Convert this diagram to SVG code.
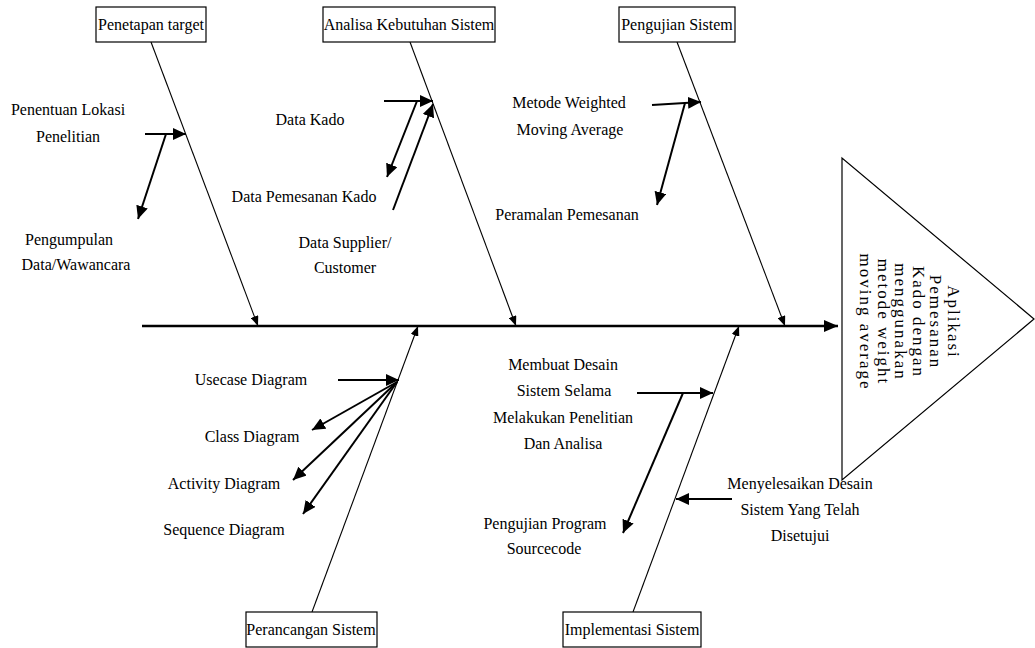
<svg xmlns="http://www.w3.org/2000/svg" width="1035" height="648" viewBox="0 0 1035 648">
<style>
text{font-family:"Liberation Serif","Times New Roman",serif;font-size:16px;fill:#000;text-anchor:middle}
.eff{font-size:17px;letter-spacing:2px}
.box{fill:#fff;stroke:#000;stroke-width:1.2}
.bone{stroke:#000;stroke-width:1.1;fill:none}
.sub{stroke:#000;stroke-width:2;fill:none}
.spine{stroke:#000;stroke-width:2.5;fill:none}
</style>
<defs>
<marker id="ah" markerUnits="userSpaceOnUse" markerWidth="14" markerHeight="12" refX="13" refY="6" orient="auto"><path d="M0,0 L13,6 L0,12 z" fill="#000"/></marker>
<marker id="as" markerUnits="userSpaceOnUse" markerWidth="10" markerHeight="8" refX="10" refY="4" orient="auto"><path d="M0,0 L10,4 L0,8 z" fill="#000"/></marker>
<marker id="asp" markerUnits="userSpaceOnUse" markerWidth="14" markerHeight="12" refX="14" refY="6" orient="auto"><path d="M0,0 L14,6 L0,12 z" fill="#000"/></marker>
</defs>
<rect width="1035" height="648" fill="#fff"/>
<g id="connectors">
<line class="spine" x1="142" y1="326" x2="838" y2="326" marker-end="url(#asp)"/>
<line class="bone" x1="151" y1="42" x2="258" y2="326" marker-end="url(#as)"/>
<line class="bone" x1="410" y1="42" x2="516" y2="326" marker-end="url(#as)"/>
<line class="bone" x1="677" y1="42" x2="785" y2="326" marker-end="url(#as)"/>
<line class="bone" x1="312" y1="612" x2="418" y2="326" marker-end="url(#as)"/>
<line class="bone" x1="633" y1="612" x2="739" y2="326" marker-end="url(#as)"/>
<line class="sub" x1="145" y1="134" x2="186" y2="134" marker-end="url(#ah)"/>
<line class="sub" x1="166" y1="134" x2="138" y2="219" marker-end="url(#ah)"/>
<line class="sub" x1="384" y1="101" x2="433" y2="101" marker-end="url(#ah)"/>
<line class="sub" x1="417" y1="101" x2="387" y2="177" marker-end="url(#ah)"/>
<line class="sub" x1="393" y1="210" x2="433" y2="104" marker-end="url(#ah)"/>
<line class="sub" x1="652" y1="105" x2="701" y2="102" marker-end="url(#ah)"/>
<line class="sub" x1="685" y1="103" x2="657" y2="205" marker-end="url(#ah)"/>
<line class="sub" x1="338" y1="380" x2="399" y2="380" marker-end="url(#ah)"/>
<line class="sub" x1="397" y1="382" x2="312" y2="430" marker-end="url(#ah)"/>
<line class="sub" x1="397" y1="382" x2="293" y2="480" marker-end="url(#ah)"/>
<line class="sub" x1="397" y1="382" x2="303" y2="514" marker-end="url(#ah)"/>
<line class="sub" x1="637" y1="393" x2="713" y2="393" marker-end="url(#ah)"/>
<line class="sub" x1="683" y1="393" x2="623" y2="533" marker-end="url(#ah)"/>
<line class="sub" x1="732" y1="499" x2="676" y2="499" marker-end="url(#ah)"/>
</g>
<g id="penetapan"><rect class="box" x="96" y="7" width="110" height="35"/><text x="151" y="30">Penetapan target</text></g>
<g id="analisa"><rect class="box" x="323" y="7" width="172" height="35"/><text x="409" y="30">Analisa Kebutuhan Sistem</text></g>
<g id="pengujian"><rect class="box" x="619" y="7" width="116" height="35"/><text x="677" y="30">Pengujian Sistem</text></g>
<g id="perancangan"><rect class="box" x="246" y="612" width="131" height="35"/><text x="311" y="635">Perancangan Sistem</text></g>
<g id="implementasi"><rect class="box" x="563" y="612" width="138" height="35"/><text x="632" y="635">Implementasi Sistem</text></g>
<g id="effect">
<polygon points="842,158 842,480 1034,319" fill="#fff" stroke="#000" stroke-width="1.2"/>
<g transform="translate(909,322) rotate(90)">
<text class="eff" x="0" y="-39">Aplikasi</text>
<text class="eff" x="0" y="-21.4">Pemesanan</text>
<text class="eff" x="0" y="-3.8">Kado dengan</text>
<text class="eff" x="0" y="13.8">menggunakan</text>
<text class="eff" x="0" y="31.4">metode weight</text>
<text class="eff" x="0" y="49">moving average</text>
</g>
</g>
<g id="labels">
<text x="68" y="115">Penentuan Lokasi</text>
<text x="68" y="142">Penelitian</text>
<text x="69" y="245">Pengumpulan</text>
<text x="76" y="270">Data/Wawancara</text>
<text x="310" y="125">Data Kado</text>
<text x="304" y="202">Data Pemesanan Kado</text>
<text x="345" y="248">Data Supplier/</text>
<text x="345" y="273">Customer</text>
<text x="569" y="108">Metode Weighted</text>
<text x="570" y="135">Moving Average</text>
<text x="567" y="220">Peramalan Pemesanan</text>
<text x="251" y="385">Usecase Diagram</text>
<text x="252" y="442">Class Diagram</text>
<text x="224" y="489">Activity Diagram</text>
<text x="224" y="535">Sequence Diagram</text>
<text x="563" y="370">Membuat Desain</text>
<text x="564" y="396">Sistem Selama</text>
<text x="563" y="423">Melakukan Penelitian</text>
<text x="563" y="449">Dan Analisa</text>
<text x="545" y="529">Pengujian Program</text>
<text x="544" y="554">Sourcecode</text>
<text x="800" y="489">Menyelesaikan Desain</text>
<text x="800" y="515">Sistem Yang Telah</text>
<text x="800" y="541">Disetujui</text>
</g>
</svg>
